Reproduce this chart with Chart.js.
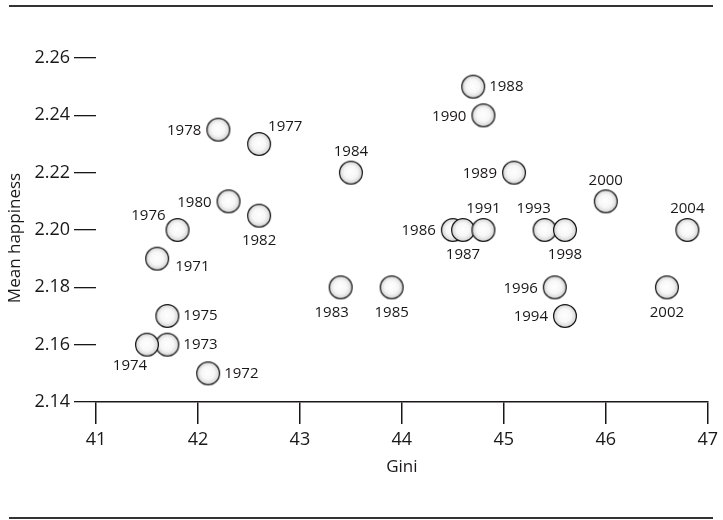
<!DOCTYPE html>
<html>
<head>
<meta charset="utf-8">
<script src="https://cdn.jsdelivr.net/npm/chart.js@4.4.1/dist/chart.umd.min.js"></script>
<style>
  html, body { margin:0; padding:0; background:#fff; }
  #wrap { width:723px; height:520px; }
</style>
</head>
<body>
<div id="wrap"><canvas id="chart" width="723" height="520"></canvas></div>
<script>
// Dati
const years = [1971,1972,1973,1974,1975,1976,1977,1978,1980,1982,1983,1984,1985,1986,1987,1988,1989,1990,1991,1993,1994,1996,1998,2000,2002,2004];
const gini = [41.6,42.1,41.7,41.5,41.7,41.8,42.6,42.2,42.3,42.6,43.4,43.5,43.9,44.5,44.6,44.7,45.1,44.8,44.8,45.4,45.6,45.5,45.6,46.0,46.6,46.8];
const happiness = [2.19,2.15,2.16,2.16,2.17,2.20,2.23,2.235,2.21,2.205,2.18,2.22,2.18,2.20,2.20,2.25,2.22,2.24,2.20,2.20,2.17,2.18,2.20,2.21,2.18,2.20];
const xTicks = [41,42,43,44,45,46,47];
const yTicks = [2.14,2.16,2.18,2.20,2.22,2.24,2.26];

const INK = '#1a1718';
const FONT = "'Open Sans', sans-serif";

// posizione delle etichette rispetto al cerchio
const labelSide = {
    1971:'se', 1972:'r', 1973:'r', 1974:'sw', 1975:'r', 1976:'nw', 1977:'ne', 1978:'l',
    1980:'l', 1982:'b', 1983:'bl', 1984:'a', 1985:'b', 1986:'l', 1987:'b', 1988:'r',
    1989:'l', 1990:'l', 1991:'a', 1993:'al', 1994:'l', 1996:'l', 1998:'b', 2000:'a',
    2002:'b', 2004:'a'
};
const sideOffset = {
    l:  [-17, 1, 'right'],
    r:  [16, 0, 'left'],
    a:  [0, -21, 'center'],
    al: [-11, -21, 'center'],
    b:  [0, 25, 'center'],
    bl: [-9, 25, 'center'],
    ne: [9, -17, 'left'],
    nw: [-12, -14, 'right'],
    se: [18, 8, 'left'],
    sw: [-17, 21, 'center']
};

// cerchio sfumato usato come pointStyle
const makeBubble = function(){
    const c = document.createElement('canvas');
    c.width = 26; c.height = 26;
    const g = c.getContext('2d');
    const grad = g.createRadialGradient(12.5, 12, 0, 13, 13, 12);
    grad.addColorStop(0, '#ffffff');
    grad.addColorStop(0.55, '#f7f7f7');
    grad.addColorStop(1, '#cdcdcd');
    g.beginPath();
    g.arc(13, 13, 11.4, 0, Math.PI * 2);
    g.fillStyle = grad;
    g.fill();
    g.lineWidth = 1.25;
    g.strokeStyle = INK;
    g.stroke();
    return c;
};

const rulesPlugin = {
    id: 'rules',
    beforeDraw(chart){
        const ctx = chart.ctx;
        ctx.save();
        ctx.strokeStyle = '#333';
        ctx.lineWidth = 2.2;
        ctx.beginPath();
        ctx.moveTo(9, 6); ctx.lineTo(713, 6);
        ctx.moveTo(9, 518); ctx.lineTo(713, 518);
        ctx.stroke();
        // titolo asse y
        ctx.translate(15, 238);
        ctx.rotate(-Math.PI / 2);
        ctx.font = "17px " + FONT;
        ctx.fillStyle = INK;
        ctx.textAlign = 'center';
        ctx.textBaseline = 'middle';
        ctx.fillText('Mean happiness', 0, 0);
        ctx.restore();
    }
};

const yearLabels = {
    id: 'yearLabels',
    afterDatasetsDraw(chart){
        const ctx = chart.ctx;
        const meta = chart.getDatasetMeta(0);
        ctx.save();
        ctx.font = "15px " + FONT;
        ctx.fillStyle = INK;
        ctx.textBaseline = 'middle';
        meta.data.forEach(function(pt, i){
            const o = sideOffset[labelSide[years[i]]];
            ctx.textAlign = o[2];
            ctx.fillText(String(years[i]), pt.x + o[0], pt.y + o[1]);
        });
        ctx.restore();
    }
};

const points = gini.map(function(g, i){ return {x: g, y: happiness[i]}; });

new Chart(document.getElementById('chart').getContext('2d'), {
    type: 'scatter',
    data: {
        datasets: [{
            label: 'Mean happiness',
            data: points,
            pointStyle: makeBubble(),
            pointRadius: 12,
            pointHoverRadius: 12
        }]
    },
    options: {
        responsive: false,
        animation: false,
        events: [],
        layout: { padding: { left: 0, right: 13, top: 58, bottom: 0 } },
        plugins: { legend: { display: false }, tooltip: { enabled: false } },
        scales: {
            x: {
                type: 'linear',
                min: 41, max: 47,
                afterBuildTicks: function(s){ s.ticks = xTicks.map(function(v){ return {value: v}; }); },
                afterFit: function(s){ s.height = 118; },
                grid: { drawOnChartArea: false, tickLength: 22, color: INK, lineWidth: 1.5 },
                border: { display: true, color: INK, width: 1.5 },
                ticks: { color: INK, font: { family: FONT, size: 18 }, padding: 5, maxRotation: 0 },
                title: { display: true, text: 'Gini', color: INK, font: { family: FONT, size: 17 }, padding: { top: 0, bottom: 43 } }
            },
            y: {
                type: 'linear',
                min: 2.14, max: 2.26,
                afterBuildTicks: function(s){ s.ticks = yTicks.map(function(v){ return {value: v}; }); },
                afterFit: function(s){ s.width = 96; },
                grid: { drawOnChartArea: false, tickLength: 22, color: INK, lineWidth: 1.3 },
                border: { display: false },
                ticks: { color: INK, font: { family: FONT, size: 18 }, padding: 4,
                    callback: function(v){ return v.toFixed(2); } },
                title: { display: false }
            }
        }
    },
    plugins: [rulesPlugin, yearLabels]
});
</script>
</body>
</html>
